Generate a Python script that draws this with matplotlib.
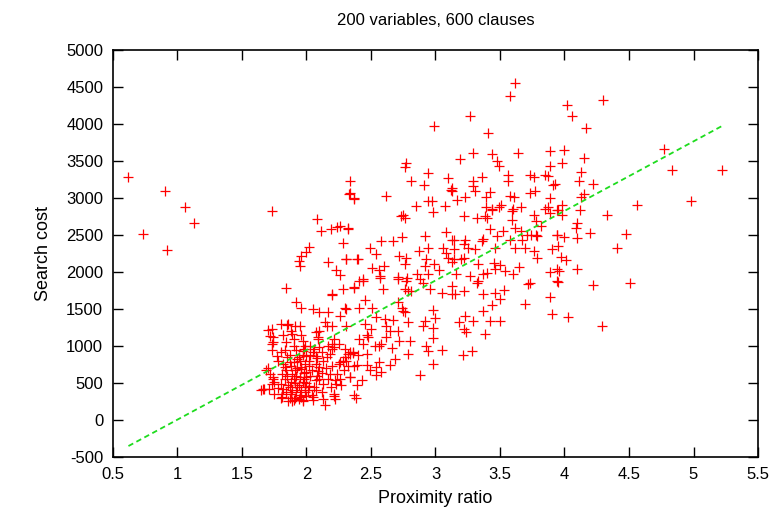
import numpy as np
import matplotlib
matplotlib.use("Agg")
import matplotlib.pyplot as plt

plt.rcParams['font.family'] = ['Liberation Sans', 'DejaVu Sans']
plt.rcParams['axes.unicode_minus'] = False

# proximity ratio / search cost for each instance
ratio = [
    0.62, 0.90, 1.06, 1.13, 0.73, 0.92, 1.73,
    4.77, 4.83, 5.22, 4.98,
    4.56, 4.33, 4.48, 4.41, 4.20, 4.10, 4.09, 4.10, 4.00, 3.94, 3.95, 3.97, 4.01, 4.10,
    3.96, 3.95, 4.22, 4.51, 4.03, 4.29, 3.98, 3.95, 3.98, 4.12, 4.13,
    4.30, 4.02, 4.06, 4.17, 4.00, 4.15, 3.98, 4.13, 4.11, 4.22, 4.15, 3.93,
    3.62, 3.58, 3.27, 3.41, 3.29, 3.44, 3.64, 3.19, 3.48, 3.49, 3.89, 3.89, 3.56, 3.56,
    3.36, 3.73, 3.76, 3.85, 3.87, 3.29, 3.29, 3.31, 3.13, 3.13, 3.91, 3.42, 3.39, 3.23,
    3.17, 3.58, 3.61, 3.73, 3.77, 3.89, 3.87, 3.51, 3.49, 3.39, 3.44, 3.66, 3.60, 3.85,
    3.22, 3.32, 3.38, 3.40, 3.44, 3.59, 3.59, 3.76, 3.78, 3.89, 3.94, 3.82, 3.42, 3.52,
    3.48, 3.62, 3.66, 3.71, 3.74, 3.78, 3.79, 3.94, 3.36, 3.37, 3.23, 3.22, 3.14, 3.58,
    3.67, 3.62, 3.69, 3.76, 3.79, 3.46, 3.31, 3.25, 3.14, 3.90, 3.22, 3.20, 3.14, 3.33,
    3.45, 3.50, 3.46, 3.54, 3.65, 3.60, 3.37, 3.40, 3.16, 3.27, 3.89, 3.94, 3.13, 3.32,
    3.33, 3.22, 3.15, 3.37, 3.46, 3.53, 3.50, 3.73, 3.72, 3.94, 3.89, 3.44, 3.69, 3.37,
    3.90, 3.23, 3.29, 3.42, 3.50, 3.18, 3.22, 3.24, 3.38, 3.28, 3.21,
    2.99,
    2.76, 2.77, 2.94, 2.34, 2.81, 2.91, 3.10, 3.12, 2.34, 2.37, 2.62, 2.94, 2.97, 2.85,
    3.07, 2.98, 2.73, 2.76, 2.75, 2.32, 2.58, 2.67, 2.74, 2.92, 3.08, 3.13, 2.49, 2.54,
    2.87, 2.94, 3.06, 3.08, 3.10, 3.13, 2.31, 2.40, 2.72, 2.77, 2.76, 2.93, 2.99, 2.51,
    2.60, 2.56, 2.57, 2.44, 2.71, 2.78, 2.86, 2.94, 2.92, 3.03, 2.88,
    2.44, 2.37, 2.57, 2.59, 2.71, 2.77, 2.76, 2.79, 2.81, 2.90, 2.96, 3.05, 3.13, 2.45,
    2.41, 2.51, 2.71, 2.74, 2.75, 2.76, 2.98, 2.31, 2.54, 2.61, 2.67, 2.79, 2.92, 3.00,
    2.45, 2.50, 2.62, 2.65, 2.71, 2.90, 2.98, 2.47, 2.48, 2.62, 2.72, 2.80, 2.98, 2.41,
    2.44, 2.53, 2.56, 2.58, 2.66, 2.93, 2.94, 3.05, 2.79, 2.69, 2.32, 2.36, 2.40, 2.47,
    2.31, 2.39, 2.47, 2.49, 2.54, 2.56, 2.65, 2.98, 2.88, 2.58, 2.54, 2.34, 2.43, 2.39,
    2.38,
    2.33, 2.37, 2.08, 2.11, 2.19, 2.24, 2.26, 2.32, 2.02, 2.00, 1.96, 1.94, 1.95, 2.28,
    2.17, 2.31, 2.39, 2.23, 2.26, 2.37, 2.28, 2.20, 1.84, 2.41,
    2.20, 1.92, 1.96, 2.05, 2.10, 2.17, 2.30, 2.26, 1.73, 1.80, 1.86, 1.91, 1.95, 2.14,
    2.16, 2.20, 2.31, 2.10, 1.89, 1.90, 1.74, 1.73, 1.80, 2.09, 2.21, 2.25, 2.10, 2.20,
    2.18, 2.07, 2.30, 2.34, 1.97, 1.94, 1.69, 1.65, 1.74, 1.75, 1.83, 1.87, 2.20, 2.26,
    2.29, 2.22, 2.27, 2.21, 2.13, 2.05, 1.97, 1.90, 1.81, 1.67,
    1.97, 2.07, 2.09, 2.20, 2.21, 2.17, 2.30, 2.34, 2.36, 2.05, 2.00, 2.13, 2.25, 2.10,
    2.02, 1.96, 2.18, 2.32, 2.37, 2.34, 2.00, 2.07, 2.13, 2.23, 1.99, 2.07, 2.12, 2.21,
    2.37, 1.96, 2.05, 2.22, 2.14,
    1.70, 1.72, 1.74, 1.73, 1.70, 1.72, 1.74, 1.73, 1.71, 1.66, 1.75, 1.78, 1.78, 1.77,
    1.80, 1.81, 1.82, 1.80, 1.83, 1.81, 1.84, 1.82, 1.85, 1.83, 1.84, 1.82, 1.85, 1.86,
    1.84, 1.86, 1.85,
    1.87, 1.88, 1.89, 1.87, 1.88, 1.90, 1.89, 1.91, 1.88, 1.90, 1.87, 1.92, 1.90, 1.91,
    1.92, 1.93, 1.91, 1.92, 1.93, 1.89, 1.93, 1.88,
    1.94, 1.95, 1.96, 1.94, 1.97, 1.95, 1.98, 1.96, 1.99, 1.95, 1.97, 1.98, 2.00, 1.99,
    2.00, 1.98, 2.00, 1.97, 1.99, 1.96,
    2.01, 2.02, 2.03, 2.04, 2.02, 2.03, 2.06, 2.08, 2.09, 2.04, 2.07, 2.10, 2.03, 2.06,
    2.08, 2.12, 2.15, 2.17, 2.19, 2.24, 2.26, 2.16, 2.28, 2.12,
]
cost = [
    3281, 3098, 2877, 2658, 2515, 2291, 2829,
    3657, 3380, 3380, 2963,
    2910, 2775, 2520, 2318, 2528, 2662, 2595, 2453, 2474, 2506, 2349, 2205, 2157, 2044,
    2013, 1870, 1821, 1856, 1386, 1274, 2910, 2843, 2775, 2843, 3008,
    4329, 4254, 4110, 3949, 3649, 3536, 3469, 3357, 3232, 3187, 3058, 3183,
    4553, 4375, 4110, 3872, 3613, 3590, 3613, 3523, 3501, 3434, 3635, 3434, 3313, 3223,
    3281, 3313, 3290, 3313, 3300, 3232, 3165, 3098, 3133, 3089, 3178, 3079, 3008, 3008,
    2977, 3021, 3008, 3066, 3098, 2999, 2873, 2900, 2873, 2873, 2856, 2873, 2851, 2851,
    2762, 2730, 2752, 2730, 2843, 2820, 2708, 2775, 2685, 2797, 2843, 2618, 2582, 2551,
    2484, 2595, 2551, 2506, 2506, 2506, 2484, 2506, 2416, 2447, 2439, 2372, 2439, 2439,
    2439, 2326, 2326, 2282, 2192, 2326, 2305, 2326, 2305, 2305, 2192, 2170, 2170, 2103,
    2125, 2090, 2036, 2013, 2071, 1969, 1969, 1991, 1969, 1946, 2000, 2036, 1812, 1856,
    1879, 1744, 1700, 1700, 1713, 1758, 1633, 1856, 1834, 1879, 1668, 1552, 1574, 1476,
    1431, 1408, 1341, 1341, 1341, 1328, 1230, 1184, 1162, 938, 880,
    3978,
    3424, 3469, 3334, 3223, 3232, 3169, 3267, 3111, 3066, 2990, 3021, 2963, 2954, 2887,
    2887, 2806, 2752, 2730, 2775, 2587, 2416, 2416, 2470, 2484, 2537, 2426, 2318, 2246,
    2282, 2318, 2326, 2259, 2192, 2138, 2170, 2170, 2215, 2184, 2103, 2170, 2103, 2058,
    2080, 2022, 1946, 1910, 1933, 1915, 1977, 1969, 2080, 2022, 1902,
    1879, 1789, 1924, 1775, 1902, 1879, 1767, 1744, 1744, 1856, 1767, 1722, 1700, 1624,
    1507, 1507, 1597, 1507, 1476, 1462, 1485, 1499, 1386, 1364, 1355, 1318, 1341, 1372,
    1297, 1230, 1274, 1207, 1207, 1265, 1238, 1149, 1117, 1117, 1072, 1072, 1103, 1095,
    1028, 1005, 1005, 1028, 969, 1005, 938, 951, 894, 827, 894, 902, 880, 894,
    804, 739, 739, 669, 714, 781, 746, 759, 611, 646, 602, 579, 535, 468,
    297,
    3052, 2999, 2716, 2551, 2582, 2609, 2627, 2595, 2336, 2269, 2215, 2148, 2080, 2394,
    2138, 2170, 2170, 2027, 1955, 1798, 1767, 1700, 1781, 1879,
    1691, 1588, 1520, 1499, 1453, 1453, 1520, 1408, 1230, 1297, 1297, 1274, 1274, 1319,
    1274, 1274, 1274, 1207, 1162, 1095, 1117, 1028, 915, 1095, 1095, 1028, 983, 961,
    894, 871, 961, 915, 938, 848, 669, 400, 579, 512, 714, 781, 736, 781,
    669, 535, 468, 320, 288, 310, 266, 266, 310, 423,
    1072, 1184, 1117, 1028, 983, 1005, 848, 894, 915, 915, 871, 804, 759, 714,
    736, 714, 625, 736, 736, 579, 579, 535, 490, 490, 445, 400, 378, 356,
    333, 310, 266, 288, 199,
    1220, 1130, 1050, 950, 700, 620, 560, 480, 420, 420, 350, 430, 800, 870,
    300, 350, 420, 480, 550, 620, 680, 760, 850, 950, 1050, 1150, 1280, 260,
    380, 470, 600,
    300, 350, 400, 450, 520, 560, 620, 680, 730, 790, 880, 950, 1000, 300,
    380, 450, 500, 600, 700, 260, 830, 1200,
    280, 340, 400, 470, 520, 580, 640, 690, 760, 800, 880, 960, 330, 380,
    500, 560, 650, 250, 1000, 1150,
    410, 460, 600, 680, 800, 880, 450, 600, 660, 340, 750, 560, 1000, 960,
    840, 640, 700, 560, 450, 620, 560, 850, 800, 920,
]

# least-squares line drawn through the cloud
fit_x = [0.62, 5.22]
fit_y = [-352, 3972]

xticks = [0.5, 1, 1.5, 2, 2.5, 3, 3.5, 4, 4.5, 5, 5.5]
xlabels = ['0.5', '1', '1.5', '2', '2.5', '3', '3.5', '4', '4.5', '5', '5.5']
yticks = list(range(-500, 5001, 500))

fig = plt.figure(figsize=(7.78, 5.23), dpi=100)
ax = fig.add_axes([0.1452, 0.1262, 0.8291, 0.7782])

ax.plot(ratio, cost, linestyle='none', marker='+', color='#ff0000',
        markersize=7, markeredgewidth=0.9)
ax.plot(fit_x, fit_y, color='#1edc1e', linewidth=1.3, dashes=(3, 2))

ax.set_xlim(0.5, 5.5)
ax.set_ylim(-500, 5000)
ax.set_xticks(xticks)
ax.set_xticklabels(xlabels)
ax.set_yticks(yticks)
ax.tick_params(direction='in', length=7, width=1, top=True, right=True,
               labelsize=12, pad=7)
for s in ax.spines.values():
    s.set_linewidth(1.2)

ax.set_title('200 variables, 600 clauses', fontsize=12, pad=18)
ax.set_xlabel('Proximity ratio', fontsize=13, labelpad=6)
ax.set_ylabel('Search cost', fontsize=13, labelpad=10)

fig.savefig('out.png', dpi=100)
